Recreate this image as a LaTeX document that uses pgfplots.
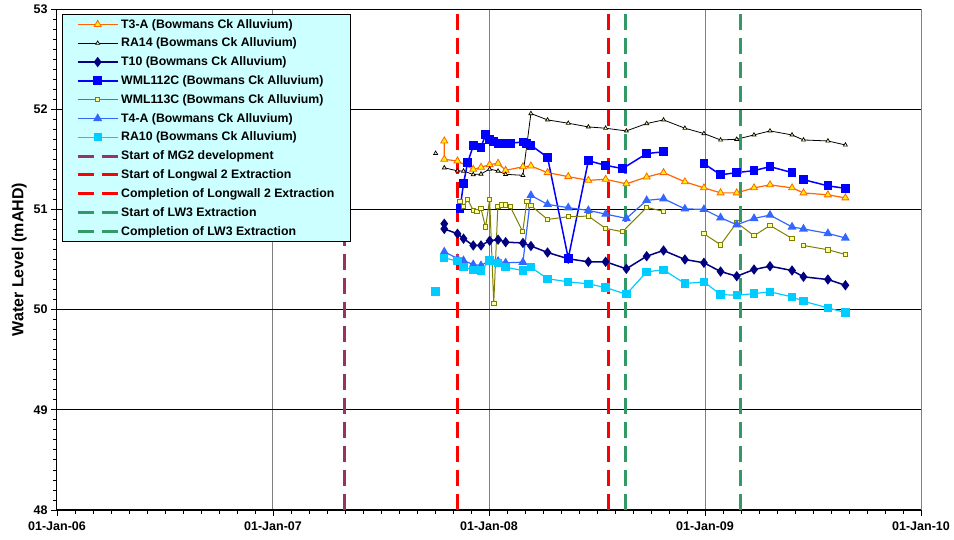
\documentclass[border=0pt]{standalone}
\usepackage{fontspec}
\setmainfont{Liberation Sans}
\usepackage{pgfplots}
\pgfplotsset{compat=1.18}
\definecolor{cT3}{HTML}{FF6600}
\definecolor{cT10}{HTML}{000080}
\definecolor{cW112}{HTML}{0000FF}
\definecolor{cW113}{HTML}{808000}
\definecolor{cT4}{HTML}{3366FF}
\definecolor{cRA10}{HTML}{00CCFF}
\definecolor{cMG}{HTML}{993366}
\definecolor{cLW}{HTML}{FF0000}
\definecolor{cLW3}{HTML}{339966}
\definecolor{legbg}{HTML}{CCFFFF}
\definecolor{lyel}{HTML}{FFFF99}
\begin{document}
\begin{tikzpicture}[x=1pt,y=1pt]
\begin{axis}[
 scale only axis, width=864pt, height=501pt,
 at={(0,0)}, anchor=south west,
 xmin=2006, xmax=2010, ymin=48, ymax=53,
 xtick={2006,2007,2008,2009,2010},
 xticklabels={01-Jan-06,01-Jan-07,01-Jan-08,01-Jan-09,01-Jan-10},
 ytick={48,49,50,51,52,53},
 minor x tick num=11, minor y tick num=9,
 axis x line*=bottom, axis y line*=left,
 tick align=outside,
 major tick length=6pt, minor tick length=4pt,
 xmajorgrids, ymajorgrids,
 major x grid style={draw=gray, line width=1pt},
 major y grid style={draw=black, line width=0.8pt},
 axis line style={black, line width=1pt},
 tick style={black, line width=0.8pt},
 /pgf/number format/assume math mode=true,
 ticklabel style={font=\bfseries\fontsize{12.5}{14}\selectfont},
 xticklabel style={yshift=-2pt},
 ylabel={Water Level (mAHD)},
 ylabel style={font=\bfseries\fontsize{16}{18}\selectfont, yshift=0pt},
 unbounded coords=jump,
 legend cell align=left,
 legend style={at={(0.0058,0.99)}, anchor=north west, fill=legbg, draw=black,
   font=\bfseries\fontsize{12.3}{14}\selectfont, inner xsep=14pt, inner ysep=3pt,
   row sep=4.4pt},
 legend image code/.code={\draw[mark repeat=2,mark phase=2] plot coordinates {(0pt,0pt) (20pt,0pt) (40pt,0pt)};},
]
\addplot[cT3, line width=1.2pt, mark=triangle*, mark size=4pt, mark options={fill=yellow, draw=cT3, line width=0.8pt}] coordinates {
(2007.793,51.683) (2007.793,51.50) (2007.854,51.483) (2007.927,51.40) (2007.963,51.42) (2008.003,51.447) (2008.042,51.46) (2008.077,51.39) (2008.157,51.425) (2008.194,51.433) (2008.271,51.367) (2008.367,51.327) (2008.460,51.29) (2008.540,51.30) (2008.636,51.255) (2008.730,51.323) (2008.808,51.367) (2008.907,51.275) (2008.995,51.215) (2009.072,51.165) (2009.147,51.165) (2009.227,51.215) (2009.301,51.245) (2009.403,51.215) (2009.456,51.165) (2009.569,51.145) (2009.650,51.115)};
\addlegendentry{T3-A (Bowmans Ck Alluvium)}
\addplot[black, line width=0.8pt, mark=triangle*, mark size=2.3pt, mark options={fill=lyel, draw=black, line width=0.7pt}] coordinates {
(2007.753,51.56) (2007.77,nan) (2007.793,51.415) (2007.854,51.385) (2007.882,51.383) (2007.927,51.348) (2007.963,51.353) (2008.003,51.403) (2008.042,51.383) (2008.077,51.35) (2008.157,51.34) (2008.194,51.957) (2008.271,51.893) (2008.367,51.86) (2008.460,51.823) (2008.540,51.81) (2008.636,51.783) (2008.730,51.857) (2008.808,51.893) (2008.907,51.81) (2008.995,51.757) (2009.072,51.693) (2009.147,51.70) (2009.227,51.743) (2009.301,51.783) (2009.403,51.743) (2009.456,51.693) (2009.569,51.683) (2009.650,51.643)};
\addlegendentry{RA14 (Bowmans Ck Alluvium)}
\addplot[cT10, line width=1.5pt, mark=diamond*, mark size=4pt, mark options={fill=cT10, draw=cT10}] coordinates {
(2007.793,50.857) (2007.793,50.805) (2007.854,50.757) (2007.882,50.708) (2007.927,50.64) (2007.963,50.64) (2008.003,50.687) (2008.042,50.698) (2008.077,50.673) (2008.157,50.665) (2008.194,50.635) (2008.271,50.57) (2008.367,50.507) (2008.460,50.477) (2008.540,50.477) (2008.636,50.407) (2008.730,50.533) (2008.808,50.59) (2008.907,50.50) (2008.995,50.467) (2009.072,50.38) (2009.147,50.333) (2009.227,50.40) (2009.301,50.433) (2009.403,50.39) (2009.456,50.327) (2009.569,50.30) (2009.650,50.243)};
\addlegendentry{T10 (Bowmans Ck Alluvium)}
\addplot[cW112, line width=1.5pt, mark=square*, mark size=3.6pt, mark options={fill=cW112, draw=cW112}] coordinates {
(2007.866,51.007) (2007.882,51.258) (2007.901,51.467) (2007.927,51.635) (2007.963,51.62) (2007.984,51.745) (2008.003,51.695) (2008.022,51.68) (2008.042,51.66) (2008.059,51.66) (2008.077,51.663) (2008.098,51.66) (2008.157,51.673) (2008.175,51.657) (2008.194,51.64) (2008.271,51.52) (2008.367,50.512) (2008.460,51.485) (2008.540,51.44) (2008.618,51.407) (2008.730,51.557) (2008.808,51.575) (2008.9,nan) (2008.995,51.457) (2009.072,51.345) (2009.147,51.367) (2009.227,51.387) (2009.301,51.427) (2009.403,51.367) (2009.43,nan) (2009.456,51.297) (2009.569,51.235) (2009.650,51.21)};
\addlegendentry{WML112C (Bowmans Ck Alluvium)}
\addplot[cW113, line width=1pt, mark=square*, mark size=2.2pt, mark options={fill=lyel, draw=cW113, line width=0.9pt}] coordinates {
(2007.866,51.078) (2007.882,51.03) (2007.901,51.098) (2007.927,50.992) (2007.944,50.977) (2007.963,51.008) (2007.984,50.823) (2008.003,51.098) (2008.022,50.062) (2008.041,51.028) (2008.059,51.045) (2008.077,51.045) (2008.098,51.028) (2008.156,50.777) (2008.175,51.077) (2008.194,51.038) (2008.271,50.90) (2008.367,50.927) (2008.460,50.933) (2008.540,50.81) (2008.618,50.777) (2008.730,51.02) (2008.808,50.98) (2008.9,nan) (2008.995,50.757) (2009.072,50.647) (2009.147,50.867) (2009.227,50.737) (2009.301,50.84) (2009.403,50.71) (2009.43,nan) (2009.456,50.64) (2009.569,50.597) (2009.650,50.55)};
\addlegendentry{WML113C (Bowmans Ck Alluvium)}
\addplot[cT4, line width=1.2pt, mark=triangle*, mark size=4pt, mark options={fill=cT4, draw=cT4}] coordinates {
(2007.793,50.577) (2007.854,50.51) (2007.882,50.49) (2007.927,50.45) (2007.963,50.44) (2008.003,50.49) (2008.042,50.483) (2008.077,50.467) (2008.157,50.473) (2008.194,51.14) (2008.271,51.05) (2008.367,51.017) (2008.460,50.99) (2008.540,50.953) (2008.636,50.91) (2008.730,51.09) (2008.808,51.107) (2008.907,51.005) (2008.995,51.00) (2009.072,50.917) (2009.147,50.847) (2009.227,50.91) (2009.301,50.943) (2009.403,50.825) (2009.456,50.805) (2009.569,50.76) (2009.650,50.715)};
\addlegendentry{T4-A (Bowmans Ck Alluvium)}
\addplot[cRA10, line width=1.2pt, mark=square*, mark size=3.6pt, mark options={fill=cRA10, draw=cRA10}] coordinates {
(2007.753,50.18) (2007.77,nan) (2007.793,50.517) (2007.854,50.483) (2007.882,50.423) (2007.927,50.397) (2007.963,50.39) (2008.003,50.49) (2008.042,50.463) (2008.077,50.423) (2008.157,50.39) (2008.194,50.423) (2008.271,50.308) (2008.367,50.277) (2008.460,50.257) (2008.540,50.22) (2008.636,50.153) (2008.730,50.377) (2008.808,50.397) (2008.907,50.26) (2008.995,50.277) (2009.072,50.15) (2009.147,50.143) (2009.227,50.16) (2009.301,50.177) (2009.403,50.127) (2009.456,50.083) (2009.569,50.017) (2009.650,49.97)};
\addlegendentry{RA10 (Bowmans Ck Alluvium)}
\addplot[cMG, line width=3pt, dash pattern=on 16pt off 8pt, mark=none] coordinates {(2007.333,48) (2007.333,53)};
\addlegendentry{Start of MG2 development}
\addplot[cLW, line width=3pt, dash pattern=on 16pt off 8pt, mark=none] coordinates {(2007.854,48) (2007.854,53)};
\addlegendentry{Start of Longwal 2 Extraction}
\addplot[cLW, line width=3pt, dash pattern=on 16pt off 8pt, mark=none] coordinates {(2008.552,48) (2008.552,53)};
\addlegendentry{Completion of Longwall 2 Extraction}
\addplot[cLW3, line width=3pt, dash pattern=on 16pt off 8pt, mark=none] coordinates {(2008.631,48) (2008.631,53)};
\addlegendentry{Start of LW3 Extraction}
\addplot[cLW3, line width=3pt, dash pattern=on 16pt off 8pt, mark=none] coordinates {(2009.166,48) (2009.166,53)};
\addlegendentry{Completion of LW3 Extraction}
\end{axis}
\path (-57,-30) rectangle (897,510);
\end{tikzpicture}
\end{document}
